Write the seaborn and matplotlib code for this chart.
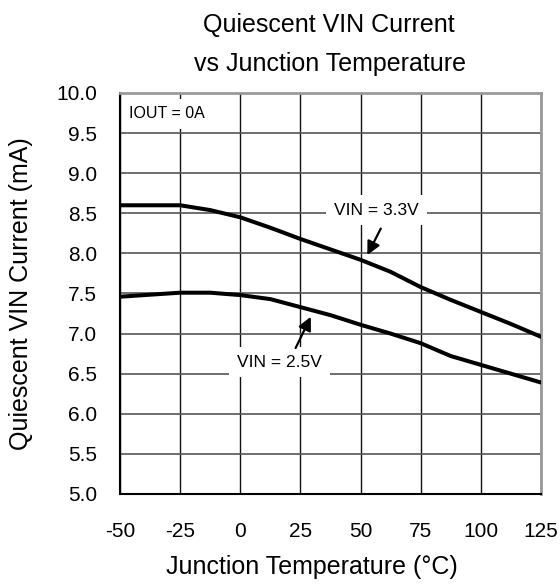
import pandas as pd
import matplotlib
matplotlib.use("Agg")
import matplotlib.pyplot as plt
import seaborn as sns

# values
temps = [-50, -25, -12.5, 0, 12.5, 25, 37.5, 50, 62.5, 75, 87.5, 100, 112.5, 125]
i_33v = [8.60, 8.60, 8.54, 8.45, 8.32, 8.18, 8.05, 7.92, 7.77, 7.58, 7.42, 7.27, 7.12, 6.96]
i_25v = [7.46, 7.51, 7.51, 7.48, 7.43, 7.33, 7.23, 7.11, 7.00, 6.88, 6.72, 6.61, 6.50, 6.39]
series_names = ["VIN = 3.3V", "VIN = 2.5V"]
x_ticks = [-50, -25, 0, 25, 50, 75, 100, 125]
y_ticks = [5.0, 5.5, 6.0, 6.5, 7.0, 7.5, 8.0, 8.5, 9.0, 9.5, 10.0]


def main():
    sns.set_theme(style="white")
    plt.rcParams["font.family"] = ["Liberation Sans", "DejaVu Sans"]
    plt.rcParams["text.color"] = "black"
    plt.rcParams["axes.labelcolor"] = "black"

    df = pd.concat([
        pd.DataFrame({"temp": temps, "current": i_33v, "series": series_names[0]}),
        pd.DataFrame({"temp": temps, "current": i_25v, "series": series_names[1]}),
    ])

    fig = plt.figure(figsize=(5.6, 5.86), dpi=100)
    ax = fig.add_axes([0.2143, 0.157, 0.7518, 0.6843])

    sns.lineplot(data=df, x="temp", y="current", hue="series",
                 palette=["black", "black"], linewidth=2.9, legend=False,
                 ax=ax, zorder=3)

    ax.set_xlim(-50, 125)
    ax.set_ylim(5.0, 10.0)
    ax.set_xticks(x_ticks)
    ax.set_xticklabels([str(t) for t in x_ticks])
    ax.set_yticks(y_ticks)
    ax.set_yticklabels([f"{v:.1f}" for v in y_ticks])
    ax.tick_params(axis="x", length=0, pad=20, labelsize=15, colors="black")
    ax.tick_params(axis="y", length=0, pad=16.5, labelsize=15, colors="black")

    # grid: vertical darker, horizontal greyer
    ax.xaxis.grid(True, color="#111111", linewidth=1.0)
    ax.yaxis.grid(True, color="#555555", linewidth=1.2)
    ax.set_axisbelow(True)

    for side in ["left", "bottom"]:
        ax.spines[side].set_color("black")
        ax.spines[side].set_linewidth(1.5)
    for side in ["top", "right"]:
        ax.spines[side].set_color("#999999")
        ax.spines[side].set_linewidth(2.0)

    ax.set_xlabel("Junction Temperature (°C)", fontsize=18)
    ax.xaxis.label.set_va("center")
    ax.xaxis.set_label_coords((311.5 - 120) / 421, (494 - 567.5) / 401)
    ax.set_ylabel("Quiescent VIN Current (mA)", fontsize=18)
    ax.yaxis.label.set_va("center")
    ax.yaxis.set_label_coords((21 - 120) / 421, 0.5)

    fig.text(0.588, 1 - 32 / 586, "Quiescent VIN Current", ha="center",
             va="baseline", fontsize=18)
    fig.text(0.59, 1 - 71 / 586, "vs Junction Temperature", ha="center",
             va="baseline", fontsize=18)

    box = dict(boxstyle="square,pad=0.45", fc="white", ec="none")
    ax.text(-30.5, 9.74, "IOUT = 0A", ha="center", va="center",
            fontsize=11.5, bbox=box, zorder=4)
    ax.text(56.6, 8.54, series_names[0], ha="center", va="center",
            fontsize=12.5, bbox=box, zorder=4)
    ax.text(16.3, 6.645, series_names[1], ha="center", va="center",
            fontsize=12.5, bbox=box, zorder=4)

    arrow = dict(arrowstyle="-|>", color="black", lw=1.6, mutation_scale=20,
                 shrinkA=0, shrinkB=0)
    ax.annotate("", xy=(52.8, 7.98), xytext=(58.4, 8.31), arrowprops=arrow, zorder=5)
    ax.annotate("", xy=(29.3, 7.21), xytext=(23.0, 6.82), arrowprops=arrow, zorder=5)

    fig.savefig("out.png", dpi=100)
    plt.close(fig)


if __name__ == "__main__":
    main()
